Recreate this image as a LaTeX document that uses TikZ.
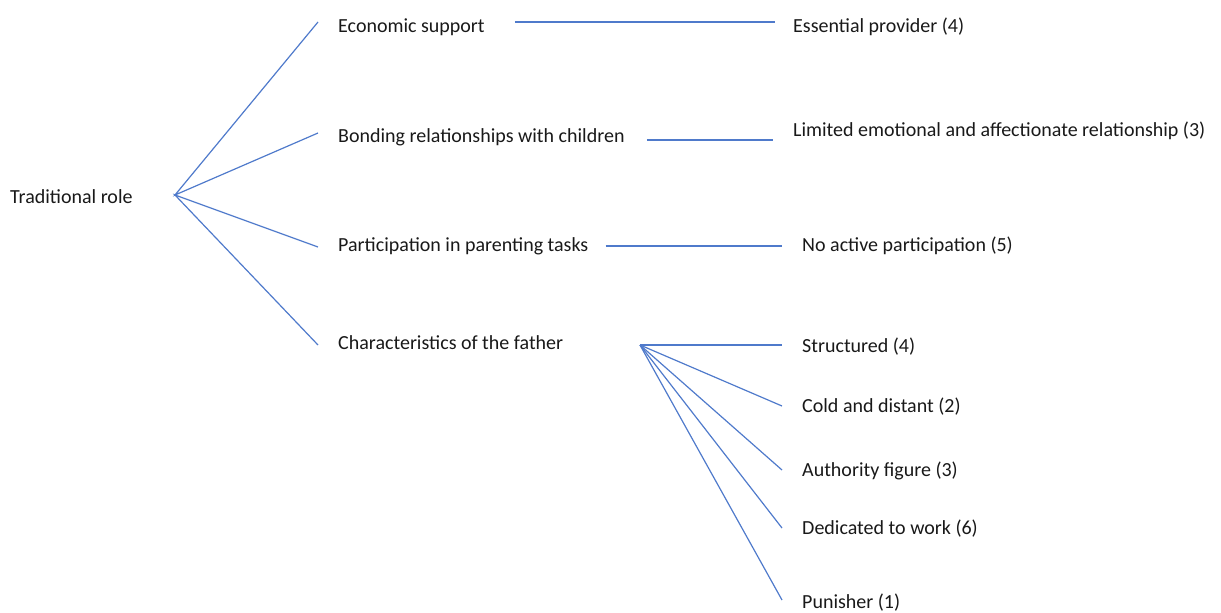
\documentclass[tikz,border=0pt]{standalone}
\usepackage{fontspec}
\setmainfont{Carlito}
\usepackage{tikz}
\usetikzlibrary{positioning}

\definecolor{linkblue}{HTML}{4F7ACB}
\tikzset{
  lbl/.style={anchor=west,inner sep=0pt,text height=14pt,text depth=4pt,
    text=black!90,font=\fontsize{20}{24}\selectfont},
  link/.style={draw=linkblue,line width=1.2pt}
}

\begin{document}
\begin{tikzpicture}[x=1pt,y=-1pt]
\useasboundingbox (0,0) rectangle (1221,613);
\node[lbl] (root) at (10,198) {Traditional role};
\coordinate (hub) at (175,195);
\node[lbl] (econ) at (338,27) {Economic support};
\node[lbl] (bond) at (338,137) {Bonding relationships with children};
\node[lbl] (part) at (338,246) {Participation in parenting tasks};
\node[lbl] (char) at (338,344) {Characteristics of the father};
\coordinate (fhub) at (640,345);
\node[lbl] (prov) at (793,27) {Essential provider (4)};
\node[lbl] (limit) at (793,131) {Limited emotional and affectionate relationship (3)};
\node[lbl] (noact) at (802,246) {No active participation (5)};
\node[lbl] (struct) at (802,347) {Structured (4)};
\node[lbl] (cold) at (802,407) {Cold and distant (2)};
\node[lbl] (auth) at (802,471) {Authority figure (3)};
\node[lbl] (dedic) at (802,529) {Dedicated to work (6)};
\node[lbl] (punish) at (802,603) {Punisher (1)};

\draw[link] ([xshift=-20pt,yshift=5pt]econ.west) -- (hub) -- ([xshift=-20pt,yshift=4pt]bond.west);
\draw[link] ([xshift=-20pt,yshift=-1pt]part.west) -- (hub) -- ([xshift=-20pt,yshift=-1pt]char.west);
\draw[link] ([xshift=30pt,yshift=5pt]econ.east) -- ([xshift=-18pt,yshift=5pt]prov.west);
\draw[link] ([xshift=22pt,yshift=-3pt]bond.east) -- ([xshift=-20pt,yshift=-9pt]limit.west);
\draw[link] ([xshift=17pt]part.east) -- ([xshift=-20pt]noact.west);
\foreach \n/\dy in {struct/2,cold/1,auth/1,dedic/1,punish/3}
  \draw[link] (fhub) -- ([xshift=-20pt,yshift=\dy pt]\n.west);
\end{tikzpicture}
\end{document}
